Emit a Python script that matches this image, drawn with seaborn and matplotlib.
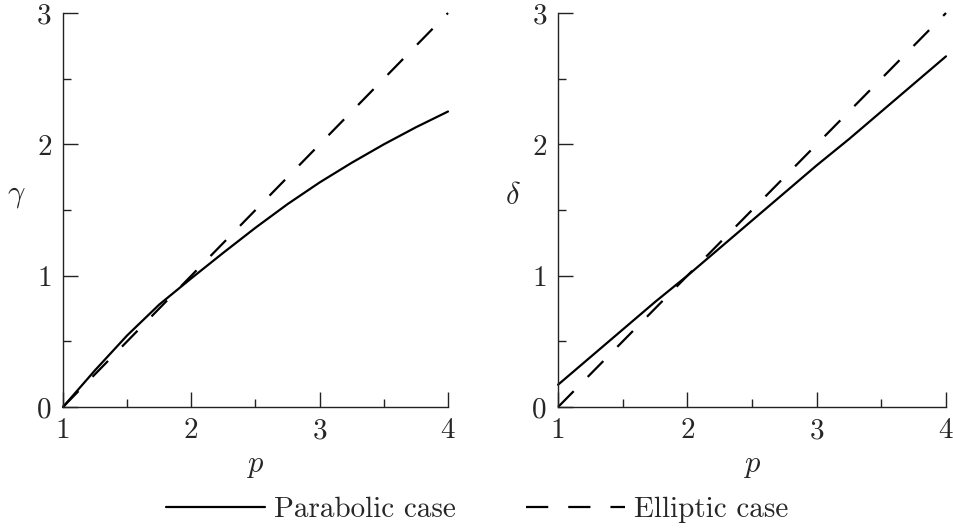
import matplotlib
matplotlib.use("Agg")
import matplotlib.pyplot as plt
import seaborn as sns
from matplotlib.ticker import MultipleLocator
from matplotlib.lines import Line2D

# values
p = [1.0, 1.25, 1.5, 1.75, 2.0, 2.25, 2.5, 2.75, 3.0, 3.25, 3.5, 3.75, 4.0]
gamma_parabolic = [0.0, 0.28, 0.545, 0.78, 0.98, 1.175, 1.365, 1.545, 1.71, 1.86, 2.00, 2.13, 2.25]
gamma_elliptic = [0.0, 0.25, 0.5, 0.75, 1.0, 1.25, 1.5, 1.75, 2.0, 2.25, 2.5, 2.75, 3.0]
delta_parabolic = [0.17, 0.38, 0.59, 0.80, 1.00, 1.21, 1.42, 1.63, 1.84, 2.04, 2.25, 2.46, 2.67]
delta_elliptic = [0.0, 0.25, 0.5, 0.75, 1.0, 1.25, 1.5, 1.75, 2.0, 2.25, 2.5, 2.75, 3.0]
x_ticks = [1, 2, 3, 4]
y_ticks = [0, 1, 2, 3]
legend_labels = ["Parabolic case", "Elliptic case"]

sns.set_style("ticks")
plt.rcParams["font.family"] = ["cmr10", "DejaVu Serif"]
plt.rcParams["mathtext.fontset"] = "cm"
plt.rcParams["axes.unicode_minus"] = False
plt.rcParams["axes.formatter.use_mathtext"] = False

fig = plt.figure(figsize=(9.54, 5.29), dpi=100)
ax1 = fig.add_axes([0.066, 0.2306, 0.4036, 0.7448])
ax2 = fig.add_axes([0.585, 0.2306, 0.4066, 0.7448])

dash = (10, 9)
panels = [(ax1, gamma_parabolic, gamma_elliptic, r"$\gamma$", -0.12),
          (ax2, delta_parabolic, delta_elliptic, r"$\delta$", -0.116)]

for ax, par, ell, lab, lx in panels:
    sns.lineplot(x=p, y=par, ax=ax, color="black", lw=1.6, clip_on=False)
    l = sns.lineplot(x=p, y=ell, ax=ax, color="black", lw=1.6, clip_on=False)
    l.lines[-1].set_dashes(dash)
    ax.set_xlim(1, 4)
    ax.set_ylim(0, 3)
    ax.set_xticks(x_ticks)
    ax.set_yticks(y_ticks)
    ax.xaxis.set_minor_locator(MultipleLocator(0.5))
    ax.yaxis.set_minor_locator(MultipleLocator(0.5))
    ax.tick_params(which="major", direction="in", length=11, width=1, labelsize=21, color="#222222")
    ax.tick_params(which="minor", direction="in", length=6, width=1, color="#222222")
    ax.tick_params(axis="x", which="major", pad=8)
    ax.tick_params(axis="y", which="major", pad=8)
    for s in ["top", "right"]:
        ax.spines[s].set_visible(False)
    for s in ["left", "bottom"]:
        ax.spines[s].set_linewidth(1)
        ax.spines[s].set_color("#222222")
    ax.set_xlabel(r"$p$", fontsize=22)
    ax.set_ylabel(lab, fontsize=22, rotation=0)
    ax.xaxis.set_label_coords(0.5, -0.115)
    ax.yaxis.set_label_coords(lx, 0.5)

handles = [Line2D([], [], color="black", lw=1.6),
           Line2D([], [], color="black", lw=1.6, dashes=dash)]
fig.legend(handles, legend_labels, loc="center", bbox_to_anchor=(0.5, 0.036), ncol=2,
           frameon=False, fontsize=21, handlelength=3.4, handletextpad=0.31, columnspacing=2.4)

fig.savefig("out.png", dpi=100)
